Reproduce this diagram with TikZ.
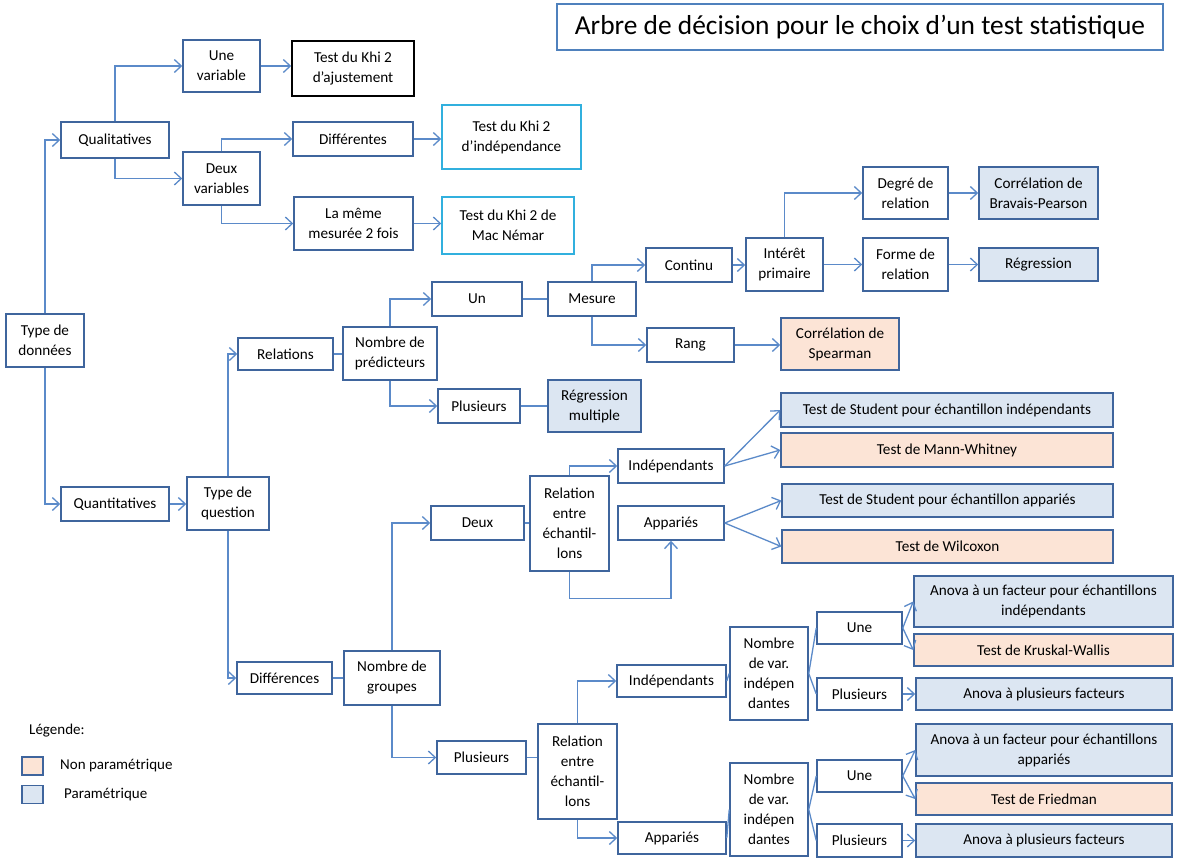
\documentclass[tikz,border=0pt]{standalone}
\usepackage{fontspec}
\setmainfont{Carlito}
\usetikzlibrary{arrows.meta}
\definecolor{boxc}{HTML}{3F659D}
\definecolor{linec}{HTML}{5B8AC9}
\definecolor{paramc}{HTML}{DCE6F2}
\definecolor{nparc}{HTML}{FCE4D6}
\definecolor{cyanc}{HTML}{31B0DE}
\definecolor{titlec}{HTML}{4F81BD}
\tikzset{
  bx/.style={draw=boxc, line width=1.5pt, fill=white, align=center, inner sep=0pt,
    font=\fontsize{15.2}{20}\selectfont, text=black},
  parbox/.style={bx, fill=paramc},
  nparbox/.style={bx, fill=nparc},
  conn/.style={draw=linec, line width=1.3pt},
  arr/.style={conn, -{Straight Barb[length=7pt,width=13pt,line width=1.3pt]}},
  wh/.style args={#1x#2}{minimum width=#1pt, minimum height=#2pt},
  legtext/.style={anchor=west, inner sep=0pt, font=\fontsize{15}{17}\selectfont},
}
\begin{document}
\begin{tikzpicture}[x=1pt,y=-1pt]
\useasboundingbox[fill=white] (0,0) rectangle (1181,860);
% title
\node[draw=titlec, line width=2.6pt, fill=white, inner sep=0pt, wh=606x46,
  font=\fontsize{27.4}{30}\selectfont] (title) at (860,27) {Arbre de décision pour le choix d’un test statistique};
% qualitative part
\node[bx, wh=78x53] (typed) at (45,340.5) {Type de\\données};
\node[bx, wh=108x36] (qual) at (115,140) {Qualitatives};
\node[bx, wh=77x52] (unevar) at (221.5,66) {Une\\variable};
\node[bx, draw=black, wh=122x55] (khiaj) at (353,68.5) {Test du Khi 2\\d’ajustement};
\node[bx, wh=77x53] (deuxvar) at (221.5,178.5) {Deux\\variables};
\node[bx, wh=120x34] (diff) at (353,139) {Différentes};
\node[bx, draw=cyanc, wh=139x64] (khiind) at (511.5,137) {Test du Khi 2\\d’indépendance};
\node[bx, wh=119x53] (meme) at (353.5,223.5) {La même\\mesurée 2 fois};
\node[bx, draw=cyanc, wh=132x57] (khimac) at (508,225.5) {Test du Khi 2 de\\Mac Némar};
% quantitative part
\node[bx, wh=108x34] (quant) at (115,504) {Quantitatives};
\node[bx, wh=82x53] (typeq) at (228,503.5) {Type de\\question};
\node[bx, wh=95x32] (rel) at (285.5,354) {Relations};
\node[bx, wh=94x53] (nbpred) at (390,353.5) {Nombre de\\prédicteurs};
\node[bx, wh=90x34] (un) at (477,299) {Un};
\node[bx, wh=88x34] (mesure) at (592,299) {Mesure};
\node[bx, wh=86x34] (continu) at (689,265) {Continu};
\node[bx, wh=77x53] (interet) at (784.5,264.5) {Intérêt\\primaire};
\node[bx, wh=85x52] (degre) at (905.5,193) {Degré de\\relation};
\node[bx, wh=85x53] (forme) at (905.5,264.5) {Forme de\\relation};
\node[parbox, wh=119x52] (bravais) at (1038.5,193) {Corrélation de\\Bravais-Pearson};
\node[parbox, wh=119x33] (regr) at (1038.5,264.5) {Régression};
\node[bx, wh=87x34] (rang) at (690.5,345) {Rang};
\node[nparbox, wh=118x52] (spear) at (840,344) {Corrélation de\\Spearman};
\node[bx, wh=82x34] (plusp) at (479,406) {Plusieurs};
\node[parbox, wh=93x52] (regm) at (594.5,406) {Régression\\multiple};
% differences, two groups
\node[bx, wh=95x32] (diffs) at (284.5,678) {Différences};
\node[bx, wh=96x54] (nbgr) at (392,678) {Nombre de\\groupes};
\node[bx, wh=93x34] (deux) at (477.5,523) {Deux};
\node[bx, wh=79x95] (rel1) at (569.5,523.5) {Relation\\entre\\échantil-\\lons};
\node[bx, wh=106x34] (ind1) at (671,466) {Indépendants};
\node[bx, wh=106x34] (app1) at (671,523) {Appariés};
\node[parbox, wh=332x34] (stind) at (947,410) {Test de Student pour échantillon indépendants};
\node[nparbox, wh=332x34] (mann) at (947,450) {Test de Mann-Whitney};
\node[parbox, wh=331x33] (stapp) at (947.5,500.5) {Test de Student pour échantillon appariés};
\node[nparbox, wh=331x33] (wilc) at (947.5,546.5) {Test de Wilcoxon};
% several groups
\node[bx, wh=89x33] (plusg) at (481.5,757.5) {Plusieurs};
\node[bx, wh=79x95] (rel2) at (577.5,771.5) {Relation\\entre\\échantil-\\lons};
\node[bx, wh=109x32] (ind2) at (671.5,681) {Indépendants};
\node[bx, wh=108x32] (app2) at (672,838) {Appariés};
\node[bx, wh=78x93] (nbv1) at (769,673.5) {Nombre\\de var.\\indépen\\dantes};
\node[bx, wh=78x93] (nbv2) at (769,809.5) {Nombre\\de var.\\indépen\\dantes};
\node[bx, wh=85x32] (une1) at (859.5,628) {Une};
\node[bx, wh=85x32] (plus1) at (859.5,694) {Plusieurs};
\node[bx, wh=85x32] (une2) at (859.5,776) {Une};
\node[bx, wh=85x33] (plus2) at (859.5,840.5) {Plusieurs};
\node[parbox, wh=259x51] (anind) at (1043.5,601.5) {Anova à un facteur pour échantillons\\indépendants};
\node[nparbox, wh=259x32] (krus) at (1043.5,650) {Test de Kruskal-Wallis};
\node[parbox, wh=256x32] (anp1) at (1044,694) {Anova à plusieurs facteurs};
\node[parbox, wh=256x52] (anapp) at (1044,750) {Anova à un facteur pour échantillons\\appariés};
\node[nparbox, wh=256x32] (fried) at (1044,799) {Test de Friedman};
\node[parbox, wh=256x33] (anp2) at (1044,840.5) {Anova à plusieurs facteurs};
% legend
\node[legtext] (leg) at (29,731) {Légende:};
\node[nparbox, wh=21x18] (legn) at (32.5,766) {};
\node[parbox, wh=21x18] (legp) at (32.5,794.5) {};
\node[legtext] (legnt) at (60,766) {Non paramétrique};
\node[legtext] (legpt) at (64,794.5) {Paramétrique};
% connectors
\draw[arr] (typed.north) |- (qual.west);
\draw[arr] (typed.south) |- (quant.west);
\draw[arr] (qual.north) |- (unevar.west);
\draw[arr] (qual.south) |- (deuxvar.west);
\draw[arr] (unevar.east) -- (khiaj.west |- unevar.east);
\draw[arr] (deuxvar.north) |- (diff.west);
\draw[arr] (deuxvar.south) |- (meme.west);
\draw[arr] (diff.east) -- (khiind.west |- diff.east);
\draw[arr] (meme.east) -- (khimac.west |- meme.east);
\draw[arr] (quant.east) -- (typeq.west |- quant.east);
\draw[arr] (typeq.north) |- (rel.west);
\draw[arr] (typeq.south) |- (diffs.west);
\draw[conn] (rel.east) -- (nbpred.west |- rel.east);
\draw[arr] (nbpred.north) |- (un.west);
\draw[arr] (nbpred.south) |- (plusp.west);
\draw[conn] (un.east) -- (mesure.west);
\draw[conn] (plusp.east) -- (regm.west);
\draw[arr] (mesure.north) |- (continu.west);
\draw[arr] (mesure.south) |- (rang.west);
\draw[arr] (continu.east) -- (interet.west |- continu.east);
\draw[arr] (interet.north) |- (degre.west);
\draw[arr] (interet.east) -- (forme.west);
\draw[arr] (degre.east) -- (bravais.west);
\draw[arr] (forme.east) -- (regr.west);
\draw[arr] (rang.east) -- (spear.west |- rang.east);
\draw[conn] (diffs.east) -- (nbgr.west |- diffs.east);
\draw[arr] (nbgr.north) |- (deux.west);
\draw[arr] (nbgr.south) |- (plusg.west);
\draw[conn] (deux.east) -- (rel1.west |- deux.east);
\draw[arr] (rel1.north) |- (ind1.west);
\draw[arr] (rel1.south) -- ++(0,27) -| (app1.south);
\draw[arr] (ind1.east) -- (stind.west);
\draw[arr] (ind1.east) -- (mann.west);
\draw[arr] (app1.east) -- (stapp.west);
\draw[arr] (app1.east) -- (wilc.west);
\draw[conn] (plusg.east) -- (rel2.west |- plusg.east);
\draw[arr] (rel2.north) |- (ind2.west);
\draw[arr] (rel2.south) |- (app2.west);
\draw[conn] (ind2.east) -- (nbv1.west);
\draw[conn] (app2.east) -- (nbv2.west);
\draw[conn] (nbv1.east) -- (une1.west);
\draw[conn] (nbv1.east) -- (plus1.west);
\draw[conn] (nbv2.east) -- (une2.west);
\draw[conn] (nbv2.east) -- (plus2.west);
\draw[arr] (une1.east) -- (anind.west);
\draw[arr] (une1.east) -- (krus.west);
\draw[arr] (plus1.east) -- (anp1.west |- plus1.east);
\draw[arr] (une2.east) -- (anapp.west);
\draw[arr] (une2.east) -- (fried.west);
\draw[arr] (plus2.east) -- (anp2.west |- plus2.east);
\end{tikzpicture}
\end{document}
